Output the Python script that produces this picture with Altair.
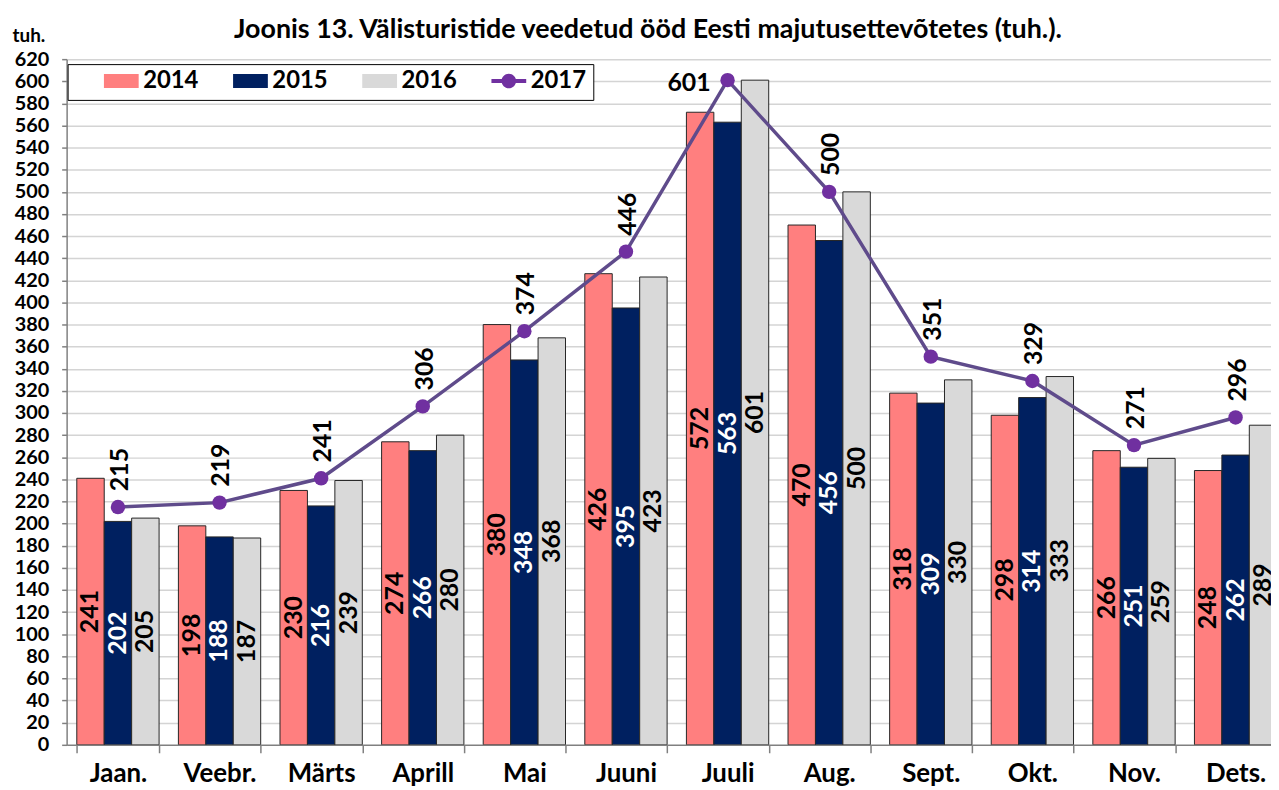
import altair as alt
import pandas as pd

FONT = "Lato"

months = ["Jaan.", "Veebr.", "Märts", "Aprill", "Mai", "Juuni",
          "Juuli", "Aug.", "Sept.", "Okt.", "Nov.", "Dets."]
v2014 = [241, 198, 230, 274, 380, 426, 572, 470, 318, 298, 266, 248]
v2015 = [202, 188, 216, 266, 348, 395, 563, 456, 309, 314, 251, 262]
v2016 = [205, 187, 239, 280, 368, 423, 601, 500, 330, 333, 259, 289]
v2017 = [215, 219, 241, 306, 374, 446, 601, 500, 351, 329, 271, 296]
years = ["2014", "2015", "2016", "2017"]
colors = ["#FF7F7F", "#002060", "#D9D9D9", "#7030A0"]
y_ticks = list(range(0, 621, 20))

bar_rows = []
for yr, vals in zip(years[:3], [v2014, v2015, v2016]):
    for m, v in zip(months, vals):
        bar_rows.append({"month": m, "year": yr, "value": v})
bars_df = pd.DataFrame(bar_rows)
line_df = pd.DataFrame({"month": months, "year": "2017", "value": v2017})

W, H = 1212, 690

xscale = alt.Scale(domain=months, range=[0, 1228], paddingInner=0.19, paddingOuter=0.1)
xaxis = alt.Axis(title=None, domain=False, grid=False, tickBand="extent", ticks=True,
                 tickSize=8, tickColor="#808080", tickWidth=1.5, labelAngle=0,
                 labelFont=FONT, labelFontSize=26, labelFontWeight="bold",
                 labelColor="black", labelPadding=8)
yscale = alt.Scale(domain=[0, 620], nice=False, zero=True)
yaxis = alt.Axis(values=y_ticks, title="tuh.", titleAngle=0, titleAlign="left",
                 titleBaseline="alphabetic", titleX=-55, titleY=-18,
                 titleFont=FONT, titleFontSize=19, titleFontWeight="bold", titleColor="black",
                 labelFont=FONT, labelFontSize=20, labelFontWeight="bold", labelColor="black",
                 labelPadding=13, tickSize=5, tickColor="#808080", tickWidth=1.5,
                 domainColor="#808080", domainWidth=1.5,
                 grid=True, gridWidth=1.5,
                 gridColor={"condition": {"test": "datum.value === 0", "value": "#808080"},
                            "value": "#D4D4D4"})

X = alt.X("month:N", scale=xscale, axis=xaxis, sort=months)
Y = alt.Y("value:Q", scale=yscale, axis=yaxis)
XOFF = alt.XOffset("year:N", scale=alt.Scale(domain=years[:3], paddingInner=0, paddingOuter=0))

color_scale = alt.Scale(domain=years, range=colors)
rect_path = "M-1,-0.4H1V0.4H-1Z"
line_path = ("M-1,-0.12H1V0.12H-1Z "
             "M-0.42,0A0.42,0.42 0 1,1 0.42,0A0.42,0.42 0 1,1 -0.42,0Z")
shape_scale = alt.Scale(domain=years, range=[rect_path, rect_path, rect_path, line_path])

legend = alt.Legend(orient="none", legendX=1, legendY=5, direction="horizontal", columns=4,
                    title="\u00a0", titleOrient="left", titleFontSize=10, titlePadding=29,
                    labelFont=FONT, labelFontSize=24, labelFontWeight="bold", labelColor="black",
                    labelOffset=4, columnPadding=34, symbolSize=1225, clipHeight=20,
                    symbolStrokeColor="#262626", symbolStrokeWidth=0.8, symbolOpacity=1,
                    padding=7, fillColor="white", strokeColor="black")

bars = alt.Chart(bars_df).mark_bar(stroke="#262626", strokeWidth=1, clip=True).encode(
    x=X, xOffset=XOFF, y=Y,
    color=alt.Color("year:N", scale=color_scale, legend=legend),
)

bar_labels = alt.Chart(bars_df).transform_calculate(mid="datum.value / 2").mark_text(
    angle=270, align="center", baseline="middle", font=FONT, fontSize=25,
    fontWeight="bold", clip=True
).encode(
    x=X, xOffset=XOFF, y=alt.Y("mid:Q", scale=yscale, axis=yaxis),
    text=alt.Text("value:Q"),
    color=alt.condition("datum.year == '2015'", alt.value("white"), alt.value("black")),
)

line = alt.Chart(line_df).mark_line(color="#5F4B8B", strokeWidth=3.5).encode(x=X, y=Y)
points = alt.Chart(line_df).mark_point(filled=True, size=210, color="#7030A0", opacity=1).encode(x=X, y=Y)

line_labels = alt.Chart(line_df).transform_filter("datum.month != 'Juuli'").mark_text(
    angle=270, align="left", baseline="middle", dx=16, dy=2, font=FONT, fontSize=25,
    fontWeight="bold", color="black"
).encode(x=X, y=Y, text=alt.Text("value:Q"))

peak_label = alt.Chart(line_df).transform_filter("datum.month == 'Juuli'").mark_text(
    angle=0, align="right", baseline="middle", dx=-17, dy=3, font=FONT, fontSize=25,
    fontWeight="bold", color="black"
).encode(x=X, y=Y, text=alt.Text("value:Q"))

legend_layer = alt.Chart(line_df).transform_filter("false").mark_point(filled=True, opacity=1).encode(
    x=X, y=Y,
    color=alt.Color("year:N", scale=color_scale, legend=legend),
    shape=alt.Shape("year:N", scale=shape_scale, legend=legend),
)

chart = alt.layer(bars, bar_labels, line, points, line_labels, peak_label, legend_layer).properties(
    width=W, height=H,
    autosize=alt.AutoSizeParams(type="none"),
    padding={"left": 59, "top": 49, "right": 0, "bottom": 43},
    background="white",
    title=alt.TitleParams(
        "Joonis 13. Välisturistide veedetud ööd Eesti majutusettevõtetes (tuh.).",
        font=FONT, fontSize=27, fontWeight="bold", color="black", anchor="middle",
        frame="group", baseline="alphabetic", offset=0, dy=39, dx=-21),
).configure_view(stroke=None)

chart.save("out.html", embed_options={"renderer": "svg", "actions": False})
